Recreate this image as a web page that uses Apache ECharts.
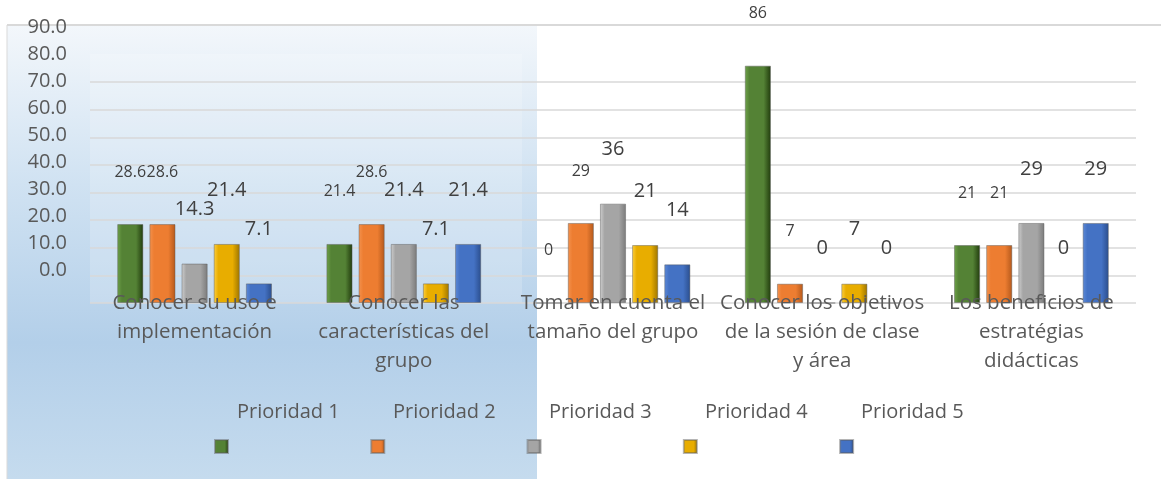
<!DOCTYPE html>
<html>
<head>
<meta charset="utf-8">
<script src="https://cdn.jsdelivr.net/npm/echarts@6/dist/echarts.min.js"></script>
<style>
  html, body { margin: 0; padding: 0; background: #fff; }
  #chart { width: 1161px; height: 479px; }
</style>
</head>
<body>
<div id="chart"></div>
<script>
// datos
const categories = [
  'Conocer su uso e\nimplementación',
  'Conocer las\ncaracterísticas del\ngrupo',
  'Tomar en cuenta el\ntamaño del grupo',
  'Conocer los objetivos\nde la sesión de clase\ny área',
  'Los beneficios de\nestratégias\ndidácticas'
];
const seriesNames = ['Prioridad 1', 'Prioridad 2', 'Prioridad 3', 'Prioridad 4', 'Prioridad 5'];
const prioridad1 = [28.6, 21.4, 0, 86, 21];
const prioridad2 = [28.6, 28.6, 29, 7, 21];
const prioridad3 = [14.3, 21.4, 36, 0, 29];
const prioridad4 = [21.4, 7.1, 21, 7, 0];
const prioridad5 = [7.1, 21.4, 14, 0, 29];
const axisTicks = [0, 10, 20, 30, 40, 50, 60, 70, 80, 90];

const values = [prioridad1, prioridad2, prioridad3, prioridad4, prioridad5];
// light / base / dark for the bevel look
const palette = [
  ['#6fa34a', '#548235', '#203a0c'],
  ['#f4934f', '#ed7d31', '#b3581b'],
  ['#cfcfcf', '#a5a5a5', '#7a7a7a'],
  ['#ffd040', '#e8ad00', '#9c7400'],
  ['#5d8ad8', '#4472c4', '#2a4d8c']
];
const labelSize = [16, 16, 20, 20, 20];
const FONT = '"Open Sans", "Liberation Sans", sans-serif';

function bevel(c) {
  return new echarts.graphic.LinearGradient(0, 0, 1, 0, [
    { offset: 0, color: c[0] },
    { offset: 0.18, color: c[1] },
    { offset: 0.72, color: c[1] },
    { offset: 1, color: c[2] }
  ]);
}

const chart = echarts.init(document.getElementById('chart'));

// split line colours: tick 90 has no line in the original
const gridColors = axisTicks.map(v => v === 90 ? 'rgba(0,0,0,0)' : '#d9d9d9');

chart.setOption({
  backgroundColor: '#fff',
  animation: false,
  graphic: [
    {
      type: 'rect', z: -10, silent: true,
      shape: { x: 7, y: 25, width: 530, height: 454 },
      style: {
        fill: new echarts.graphic.LinearGradient(0, 0, 0, 1, [
          { offset: 0, color: '#f3f7fb' },
          { offset: 0.35, color: '#d0e2f2' },
          { offset: 0.7, color: '#b3cfe9' },
          { offset: 1, color: '#c5dbee' }
        ])
      }
    },
    {
      type: 'rect', z: -9, silent: true,
      shape: { x: 90, y: 54, width: 432, height: 249 },
      style: { fill: 'rgba(255,255,255,0.18)' }
    },
    {
      type: 'line', z: -8, silent: true,
      shape: { x1: 7, y1: 25, x2: 1161, y2: 25 },
      style: { stroke: '#d9d9d9', lineWidth: 2 }
    },
    {
      type: 'line', z: -8, silent: true,
      shape: { x1: 7, y1: 25, x2: 7, y2: 479 },
      style: { stroke: '#d9d9d9', lineWidth: 1 }
    }
  ],
  legend: [
    {
      data: seriesNames,
      selectedMode: false,
      left: 226, top: 393,
      itemWidth: 0, itemHeight: 0, itemGap: 5,
      textStyle: { fontFamily: FONT, fontSize: 20, color: '#595959', width: 145, lineHeight: 28 }
    },
    {
      data: seriesNames,
      selectedMode: false,
      left: 209, top: 434,
      icon: 'rect', itemWidth: 13, itemHeight: 13, itemGap: 134.5,
      formatter: () => ' ',
      textStyle: { fontSize: 10 }
    }
  ],
  grid: [
    { left: 90, right: 25, top: 27, bottom: 176 },
    { left: 75, width: 10, top: 27, bottom: 209 }
  ],
  xAxis: [
    {
      type: 'category', gridIndex: 0, data: categories, z: 5,
      axisLine: { show: false }, axisTick: { show: false },
      axisLabel: {
        interval: 0, margin: -14, fontFamily: FONT, fontSize: 20.5,
        lineHeight: 29, color: '#595959'
      }
    },
    { type: 'value', gridIndex: 1, show: false, min: 0, max: 1 }
  ],
  yAxis: [
    {
      type: 'value', gridIndex: 0, min: 0, max: 100, interval: 10,
      axisLabel: { show: false }, axisLine: { show: false }, axisTick: { show: false },
      splitLine: { show: true, showMaxLine: false, lineStyle: { color: gridColors, width: 1.5 } }
    },
    {
      type: 'value', gridIndex: 1, min: axisTicks[0], max: axisTicks[axisTicks.length - 1], interval: 10,
      axisLine: { show: false }, axisTick: { show: false }, splitLine: { show: false },
      axisLabel: {
        margin: 8, fontFamily: FONT, fontSize: 20, color: '#595959',
        formatter: v => v.toFixed(1)
      }
    }
  ],
  series: seriesNames.map((name, i) => ({
    name: name,
    type: 'bar',
    xAxisIndex: 0, yAxisIndex: 0,
    data: values[i],
    barGap: '23%',
    barCategoryGap: '26%',
    itemStyle: { color: bevel(palette[i]), borderColor: 'rgba(90,90,90,0.45)', borderWidth: 1 },
    label: {
      show: true, position: 'top', distance: 44,
      fontFamily: FONT, fontSize: labelSize[i], color: '#404040',
      formatter: p => p.dataIndex < 2 ? p.value.toFixed(1) : String(Math.round(p.value))
    }
  }))
});
</script>
</body>
</html>
